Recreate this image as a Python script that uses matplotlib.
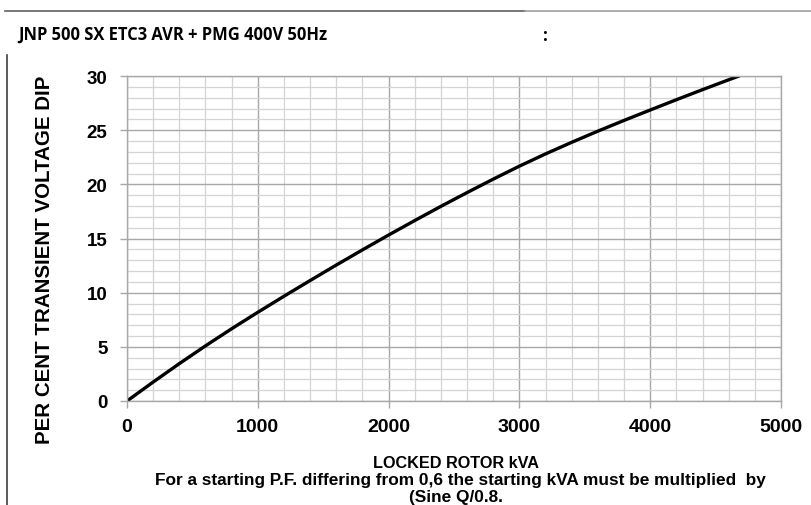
import matplotlib
matplotlib.use('Agg')
from matplotlib import pyplot as plt
from matplotlib.lines import Line2D
import numpy as np

# curve (locked rotor kVA -> % transient voltage dip)
kva = [0, 200, 400, 600, 800, 1000, 1200, 1400, 1600, 1800, 2000, 2200, 2400,
       2600, 2800, 3000, 3200, 3400, 3600, 3800, 4000, 4200, 4400, 4600, 4680]
dip = [0, 1.75, 3.45, 5.09, 6.67, 8.19, 9.67, 11.12, 12.55, 13.95, 15.32,
       16.66, 17.97, 19.24, 20.48, 21.68, 22.81, 23.88, 24.91, 25.90, 26.86,
       27.81, 28.74, 29.65, 30.0]

x_ticks = [0, 1000, 2000, 3000, 4000, 5000]
y_ticks = [0, 5, 10, 15, 20, 25, 30]

W, H = 812, 506
fig = plt.figure(figsize=(W / 100, H / 100), dpi=100)


def fx(px):
    return px / W


def fy(py):
    return 1 - py / H


# axes area
ax = fig.add_axes([fx(127), fy(402), fx(781) - fx(127), fy(77) - fy(402)])
ax.set_xlim(0, 5000)
ax.set_ylim(0, 30)

# grid
ax.set_xticks(x_ticks)
ax.set_yticks(y_ticks)
ax.set_xticks(np.arange(0, 5001, 200), minor=True)
ax.set_yticks(np.arange(0, 31, 1), minor=True)
ax.grid(which='minor', color='#d4d4d4', linewidth=0.9)
ax.grid(which='major', color='#a8a8a8', linewidth=1.0)
ax.set_axisbelow(True)
for s in ax.spines.values():
    s.set_color('#a8a8a8')
    s.set_linewidth(1.0)
ax.tick_params(which='minor', length=0)
ax.tick_params(which='major', length=5, color='#a8a8a8', width=1.0)

ax.set_xticklabels([str(v) for v in x_ticks], fontsize=14, fontweight='bold',
                   family='Liberation Sans')
ax.set_yticklabels([str(v) for v in y_ticks], fontsize=13.5, fontweight='bold',
                   family='Liberation Sans')
ax.tick_params(axis='x', pad=7)
ax.tick_params(axis='y', pad=9)

ax.plot(kva, dip, color='black', linewidth=2.4, solid_capstyle='round',
        solid_joinstyle='round')

# y label
fig.text(fx(45), fy(260), 'PER CENT TRANSIENT VOLTAGE DIP', rotation=90,
         ha='center', va='center', fontsize=14.8, fontweight='bold',
         family='Liberation Sans')

# x label and note
fig.text(fx(456), fy(463), 'LOCKED ROTOR kVA', ha='center', va='center',
         fontsize=11.7, fontweight='bold', family='Liberation Sans')
fig.text(fx(460), fy(481),
         'For a starting P.F. differing from 0,6 the starting kVA must be multiplied  by',
         ha='center', va='center', fontsize=12.4, fontweight='bold',
         family='Liberation Sans')
fig.text(fx(456), fy(498), '(Sine Q/0.8.', ha='center', va='center',
         fontsize=12.4, fontweight='bold', family='Liberation Sans')

# header
fig.text(fx(18), fy(35), 'JNP 500 SX ETC3 AVR + PMG 400V 50Hz', ha='left',
         va='center', fontsize=11.9, fontweight='bold', family='Open Sans')
fig.text(fx(545), fy(36), ':', ha='center', va='center', fontsize=12,
         fontweight='bold', family='Open Sans')

# page frame lines
fig.add_artist(Line2D([fx(5), fx(525)], [fy(12), fy(12)], color='#606060',
                      linewidth=1.2))
fig.add_artist(Line2D([fx(525), fx(812)], [fy(12), fy(12)], color='#a0a0a0',
                      linewidth=1.2))
fig.add_artist(Line2D([fx(7), fx(7)], [fy(56), fy(506)], color='#404040',
                      linewidth=1.2))

fig.savefig('out.png', dpi=100)
